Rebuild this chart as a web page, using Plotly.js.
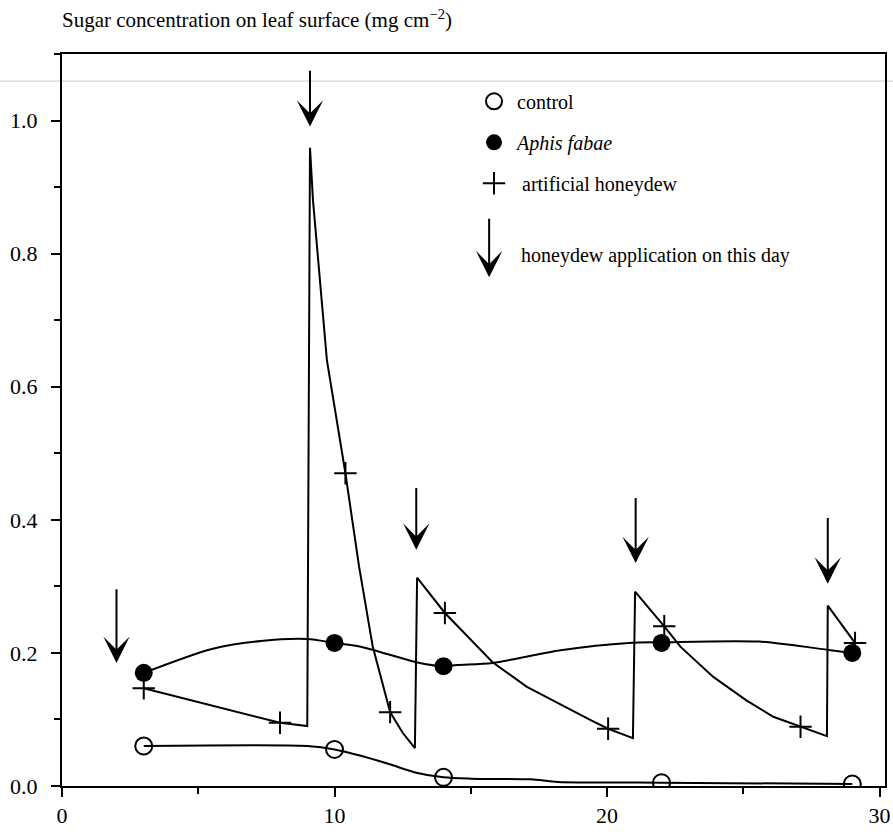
<!DOCTYPE html>
<html>
<head>
<meta charset="utf-8">
<script src="https://cdn.plot.ly/plotly-3.0.1.min.js"></script>
<style>html,body{margin:0;padding:0;background:#fff;}#chart{width:893px;height:834px;}</style>
</head>
<body>
<div id="chart"></div>
<script>
// ---- data ----
// control (open circles)
var controlDays  = [3, 10, 14, 22, 29];
var controlSugar = [0.060, 0.055, 0.013, 0.005, 0.003];
var controlCurveDays  = [3, 9, 10, 11, 12, 13, 14, 15, 17.2, 18.2, 22, 29];
var controlCurveSugar = [0.060, 0.060, 0.055, 0.045, 0.033, 0.020, 0.013, 0.011, 0.010, 0.006, 0.005, 0.003];

// Aphis fabae (filled circles)
var aphisDays  = [3, 10, 14, 22, 29];
var aphisSugar = [0.170, 0.215, 0.180, 0.215, 0.200];
var aphisCurveDays  = [3, 5.5, 7.3, 9, 10, 11, 13, 14, 14.5, 15.8, 18.3, 20.8, 22, 25.6, 28.2, 29];
var aphisCurveSugar = [0.170, 0.206, 0.218, 0.221, 0.215, 0.209, 0.186, 0.180, 0.182, 0.185, 0.204, 0.215, 0.216, 0.217, 0.204, 0.200];

// artificial honeydew (+)
var honeyDays  = [3, 8, 10.4, 12.04, 14.05, 20.04, 22.1, 27.1, 29.1];
var honeySugar = [0.147, 0.095, 0.470, 0.111, 0.260, 0.086, 0.240, 0.089, 0.215];
var honeyCurveDays  = [3, 8, 9.0, 9.1, 9.21, 9.72, 10.4, 10.9, 11.4, 12.04, 12.5, 12.95, 13.03, 14.05, 15.8, 17.06, 19.4, 20.04, 20.95, 21.03, 22.1, 22.7, 23.9, 25.1, 26.1, 27.1, 28.07, 28.1, 29.1];
var honeyCurveSugar = [0.147, 0.095, 0.090, 0.959, 0.880, 0.640, 0.470, 0.330, 0.210, 0.111, 0.080, 0.057, 0.313, 0.260, 0.186, 0.149, 0.099, 0.086, 0.072, 0.292, 0.240, 0.209, 0.164, 0.129, 0.104, 0.089, 0.075, 0.271, 0.215];

// honeydew application days (arrows): tail and tip levels
var applicationDays = [2.0, 9.1, 13.0, 21.05, 28.1];
var arrowTail = [0.298, 1.077, 0.450, 0.435, 0.405];
var arrowTip  = [0.185, 0.991, 0.355, 0.335, 0.304];

// axis ticks
var xTickVals = [0, 10, 20, 30];
var yTickVals = [0.0, 0.2, 0.4, 0.6, 0.8, 1.0];

// ---- figure ----
var serif = '"Liberation Serif", "Times New Roman", serif';

var traces = [
  {x: controlCurveDays, y: controlCurveSugar, mode: 'lines', line: {color: '#000', width: 2, shape: 'spline', smoothing: 0.8}, showlegend: false, hoverinfo: 'skip'},
  {x: aphisCurveDays, y: aphisCurveSugar, mode: 'lines', line: {color: '#000', width: 2, shape: 'spline', smoothing: 0.8}, showlegend: false, hoverinfo: 'skip'},
  {x: honeyCurveDays, y: honeyCurveSugar, mode: 'lines', line: {color: '#000', width: 2}, showlegend: false, hoverinfo: 'skip'},
  {x: controlDays, y: controlSugar, mode: 'markers', name: 'control', legendgroup: 'a',
   marker: {symbol: 'circle-open', size: 17, color: '#000', line: {width: 2, color: '#000'}}},
  {x: aphisDays, y: aphisSugar, mode: 'markers', name: '<i>Aphis fabae</i>', legendgroup: 'b',
   marker: {symbol: 'circle', size: 18, color: '#000'}},
  {x: honeyDays, y: honeySugar, mode: 'markers', name: ' artificial honeydew', legendgroup: 'c',
   marker: {symbol: 'cross-thin', size: 16, color: '#000', line: {width: 2, color: '#000'}}}
];

var arrowStyle = {showarrow: true, arrowhead: 3, arrowsize: 2.2, arrowwidth: 2, arrowcolor: '#000', standoff: 0};
var annotations = applicationDays.map(function (d, i) {
  return Object.assign({x: d, y: arrowTip[i], ax: d, ay: arrowTail[i], xref: 'x', yref: 'y', axref: 'x', ayref: 'y', text: ''}, arrowStyle);
});
// legend entry for the arrows
annotations.push(Object.assign({x: 0.519, y: 0.695, xref: 'paper', yref: 'paper', ax: 0, ay: -60, text: ''}, arrowStyle));
annotations.push({x: 0.555, y: 0.725, xref: 'paper', yref: 'paper', xanchor: 'left', yanchor: 'middle',
                  text: 'honeydew application on this day', showarrow: false, font: {family: serif, size: 20, color: '#000'}});

var layout = {
  width: 893, height: 834,
  margin: {l: 62, r: 8, t: 54, b: 48},
  paper_bgcolor: '#fff', plot_bgcolor: '#fff',
  font: {family: serif, size: 22, color: '#000'},
  title: {text: 'Sugar concentration on leaf surface (mg cm<sup>\u22122</sup>)', x: 0, xref: 'paper', xanchor: 'left',
          y: 0.976, yref: 'container', yanchor: 'middle', font: {family: serif, size: 21, color: '#000'}},
  xaxis: {range: [0, 30.2], tickvals: xTickVals, ticktext: xTickVals.map(String), ticks: 'outside', ticklen: 9, tickwidth: 2,
          tickcolor: '#000', showline: true, mirror: true, linewidth: 2, linecolor: '#000', showgrid: false, zeroline: false,
          minor: {dtick: 5, tick0: 0, ticks: 'outside', ticklen: 6, tickwidth: 2, tickcolor: '#000', showgrid: false},
          tickfont: {family: serif, size: 22}},
  yaxis: {range: [0, 1.1], tickvals: yTickVals, ticktext: yTickVals.map(function (v) { return v.toFixed(1); }),
          ticks: 'outside', ticklen: 9, tickwidth: 2, tickcolor: '#000', showline: true, mirror: true, linewidth: 2,
          linecolor: '#000', showgrid: false, zeroline: false, ticklabelstandoff: 9,
          minor: {dtick: 0.1, tick0: 0, ticks: 'outside', ticklen: 6, tickwidth: 2, tickcolor: '#000', showgrid: false},
          tickfont: {family: serif, size: 22}},
  legend: {x: 0.497, y: 0.962, xanchor: 'left', yanchor: 'top', bgcolor: 'rgba(0,0,0,0)', borderwidth: 0,
           tracegroupgap: 12, itemwidth: 36, font: {family: serif, size: 20, color: '#000'}, itemsizing: 'trace'},
  showlegend: true,
  annotations: annotations,
  shapes: [
    {type: 'line', xref: 'paper', yref: 'paper', x0: -0.08, x1: 1.01, y0: 0.963, y1: 0.963, line: {color: '#c8c8c8', width: 1}, layer: 'below'}
  ]
};

Plotly.newPlot('chart', traces, layout, {staticPlot: true, displayModeBar: false});
</script>
</body>
</html>
